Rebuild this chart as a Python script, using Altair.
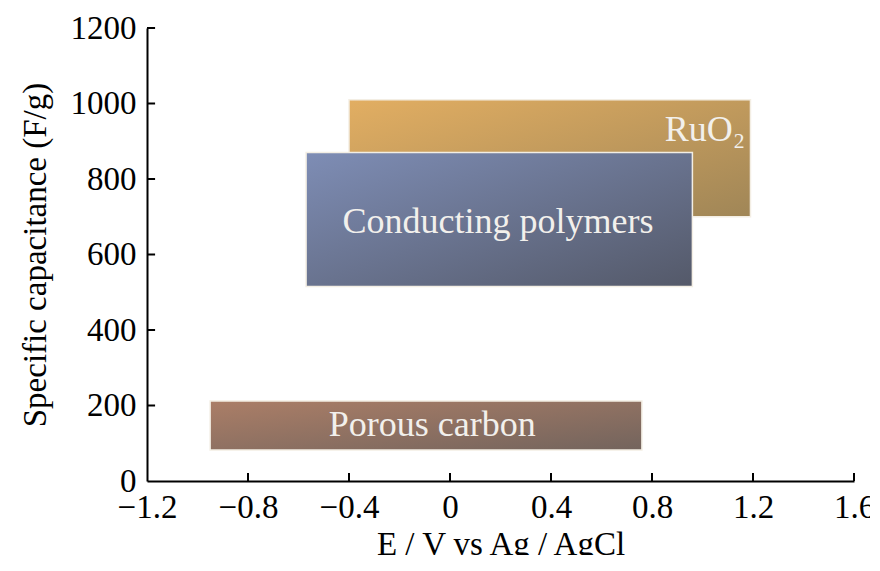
import altair as alt
import pandas as pd

# ---- data ----
materials = ["RuO₂", "Conducting polymers", "Porous carbon"]
x_start = [-0.40, -0.57, -0.95]
x_end = [1.19, 0.96, 0.76]
y_low = [700, 515, 82]
y_high = [1010, 870, 212]
label_x = [1.17, 0.19, -0.07]
label_y = [930, 686, 148]

x_tick_values = [-1.2, -0.8, -0.4, 0, 0.4, 0.8, 1.2, 1.6]
y_tick_values = [0, 200, 400, 600, 800, 1000, 1200]

# ---- styles ----
gradients = {
    "RuO₂": ("#e2ae62", "#a08657"),
    "Conducting polymers": ("#7e8db5", "#545969"),
    "Porous carbon": ("#ab7e67", "#73645d"),
}
label_align = {"RuO₂": "right", "Conducting polymers": "center", "Porous carbon": "center"}
FONT = "Liberation Serif"
TICK_LEN_X = 0.032   # in V, for inward y-axis ticks
TICK_LEN_Y = 21      # in F/g, for inward x-axis ticks

df = pd.DataFrame({
    "name": materials, "x0": x_start, "x1": x_end, "y0": y_low, "y1": y_high,
    "lx": label_x, "ly": label_y,
})

xs = alt.Scale(domain=[x_tick_values[0], x_tick_values[-1]], nice=False, zero=False)
ys = alt.Scale(domain=[y_tick_values[0], y_tick_values[-1]], nice=False)

x_axis = alt.Axis(
    values=x_tick_values, tickSize=0, grid=False, domainColor="black", domainWidth=2,
    labelFont=FONT, labelFontSize=33, labelColor="black", labelPadding=10,
    labelExpr="datum.value == 0 ? '0' : format(datum.value, '.1f')",
    title="E / V vs Ag / AgCl", titleFont=FONT, titleFontSize=33, titleFontWeight="normal",
    titleColor="black", titlePadding=4, labelFlush=False, labelOverlap=False,
)
y_axis = alt.Axis(
    values=y_tick_values, tickSize=0, grid=False, domainColor="black", domainWidth=2,
    labelFont=FONT, labelFontSize=33, labelColor="black", labelPadding=11, format="d",
    labelBaseline="middle",
    title="Specific capacitance (F/g)", titleFont=FONT, titleFontSize=33,
    titleFontWeight="normal", titleColor="black", titlePadding=18, labelOverlap=False,
)

base = alt.Chart(df)
layers = []
for i, name in enumerate(materials):
    c0, c1 = gradients[name]
    grad = alt.Gradient(
        gradient="linear",
        stops=[alt.GradientStop(color=c0, offset=0), alt.GradientStop(color=c1, offset=1)],
        x1=0, y1=0, x2=1, y2=1,
    )
    rect = base.transform_filter(alt.datum.name == name).mark_rect(
        fill=grad, stroke="#f3eee4", strokeWidth=1.5
    ).encode(
        x=alt.X("x0:Q", scale=xs, axis=x_axis),
        x2="x1:Q",
        y=alt.Y("y0:Q", scale=ys, axis=y_axis),
        y2="y1:Q",
    )
    txt = base.transform_filter(alt.datum.name == name).mark_text(
        font=FONT, fontSize=36, color="#f2f0ec", align=label_align[name], baseline="middle"
    ).encode(
        x=alt.X("lx:Q", scale=xs, axis=x_axis),
        y=alt.Y("ly:Q", scale=ys, axis=y_axis),
        text="name:N",
    )
    layers += [rect, txt]

# inward ticks
xt = pd.DataFrame({"v": x_tick_values[1:], "a": 0, "b": TICK_LEN_Y})
yt = pd.DataFrame({"v": y_tick_values[1:], "a": x_tick_values[0], "b": x_tick_values[0] + TICK_LEN_X})
x_ticks = alt.Chart(xt).mark_rule(color="black", strokeWidth=2).encode(
    x=alt.X("v:Q", scale=xs, axis=x_axis), y=alt.Y("a:Q", scale=ys, axis=y_axis), y2="b:Q"
)
y_ticks = alt.Chart(yt).mark_rule(color="black", strokeWidth=2).encode(
    y=alt.Y("v:Q", scale=ys, axis=y_axis), x=alt.X("a:Q", scale=xs, axis=x_axis), x2="b:Q"
)
layers += [x_ticks, y_ticks]

chart = alt.layer(*layers).properties(
    width=707, height=453,
    padding={"left": 139, "top": 20, "right": 16, "bottom": 74},
    autosize=alt.AutoSizeParams(type="none"),
    background="white",
).configure_view(stroke=None)

chart.save("out.html", embed_options={"renderer": "svg", "actions": False})
